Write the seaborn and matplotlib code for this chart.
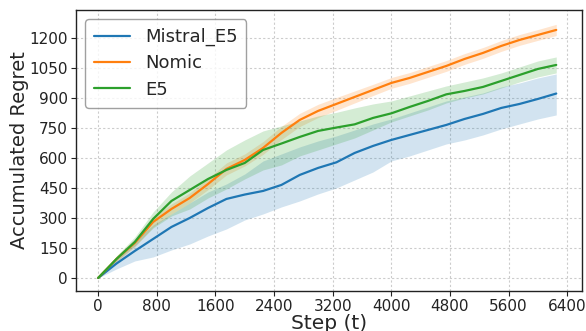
import numpy as np
import pandas as pd
import matplotlib
matplotlib.use("Agg")
import matplotlib.pyplot as plt
import seaborn as sns

steps = [0, 250, 500, 750, 1000, 1250, 1500, 1750, 2000, 2250, 2500, 2750, 3000,
         3250, 3500, 3750, 4000, 4250, 4500, 4750, 5000, 5250, 5500, 5750, 6000, 6250]

mistral_mean = [0, 72, 135, 195, 255, 300, 350, 395, 417, 435, 465, 515, 550,
                578, 625, 660, 690, 715, 740, 765, 795, 820, 850, 870, 895, 922]
mistral_low = [0, 45, 85, 105, 140, 170, 210, 245, 290, 320, 355, 385, 420,
               450, 490, 530, 585, 610, 640, 670, 690, 715, 745, 770, 795, 815]
mistral_high = [0, 100, 185, 265, 320, 375, 430, 470, 520, 585, 620, 655, 685,
                710, 740, 770, 795, 825, 855, 885, 905, 925, 955, 975, 1000, 1020]

nomic_mean = [0, 95, 175, 280, 345, 400, 470, 545, 590, 650, 725, 790, 835,
              870, 905, 940, 975, 1000, 1030, 1060, 1095, 1125, 1160, 1190, 1215, 1240]
nomic_low = [0, 80, 155, 255, 320, 375, 442, 515, 560, 618, 692, 757, 802,
             838, 875, 912, 948, 973, 1003, 1033, 1068, 1098, 1133, 1163, 1188, 1212]
nomic_high = [0, 110, 195, 305, 370, 425, 498, 575, 620, 682, 758, 823, 868,
              902, 935, 968, 1002, 1027, 1057, 1087, 1122, 1152, 1187, 1217, 1242, 1268]

e5_mean = [0, 95, 180, 295, 385, 440, 495, 540, 575, 640, 672, 705, 735,
           752, 768, 800, 823, 855, 885, 918, 935, 955, 985, 1015, 1045, 1065]
e5_low = [0, 85, 160, 250, 310, 345, 400, 445, 495, 540, 565, 610, 640,
          670, 700, 740, 780, 810, 840, 875, 900, 920, 950, 980, 1005, 1025]
e5_high = [0, 110, 205, 330, 430, 510, 575, 640, 690, 735, 760, 785, 810,
           828, 850, 870, 885, 910, 935, 960, 980, 1000, 1025, 1055, 1085, 1105]

series_names = ["Mistral_E5", "Nomic", "E5"]
colors = ["#1f77b4", "#ff7f0e", "#2ca02c"]
xticks = [0, 800, 1600, 2400, 3200, 4000, 4800, 5600, 6400]
yticks = [0, 150, 300, 450, 600, 750, 900, 1050, 1200]

means = [mistral_mean, nomic_mean, e5_mean]
lows = [mistral_low, nomic_low, e5_low]
highs = [mistral_high, nomic_high, e5_high]

df = pd.concat([pd.DataFrame({"step": steps, "regret": m, "model": n})
                for n, m in zip(series_names, means)], ignore_index=True)

sns.set_style("white")
plt.rcParams['font.family'] = ['DejaVu Sans']

fig = plt.figure(figsize=(5.86, 3.31), dpi=100)
ax = fig.add_axes([0.130, 0.121, 0.863, 0.849])

for n, lo, hi, c in zip(series_names, lows, highs, colors):
    ax.fill_between(steps, lo, hi, color=c, alpha=0.2, linewidth=0)

sns.lineplot(data=df, x="step", y="regret", hue="model", palette=colors,
             hue_order=series_names, linewidth=1.6, ax=ax)

ax.set_xlim(-300, 6600)
ax.set_ylim(-65, 1340)
ax.set_xticks(xticks)
ax.set_yticks(yticks)
ax.tick_params(axis='both', labelsize=11, length=3.5, width=0.8, direction='out',
               bottom=True, left=True, colors='#222222', labelcolor='#222222', pad=2.5)
ax.grid(True, linestyle=(0, (2, 2)), color='#cccccc', linewidth=0.8)
for s in ax.spines.values():
    s.set_color('#222222')
    s.set_linewidth(1.0)
ax.set_xlabel("Step (t)", fontsize=14.5, labelpad=0)
ax.set_ylabel("Accumulated Regret", fontsize=14, labelpad=0)

leg = ax.legend(loc='upper left', fontsize=13, frameon=True, handlelength=2.0,
                borderpad=0.5, labelspacing=0.45, handletextpad=0.8,
                bbox_to_anchor=(0.0, 1.0))
leg.get_frame().set_edgecolor('#888888')

fig.savefig("out.png", dpi=100)
